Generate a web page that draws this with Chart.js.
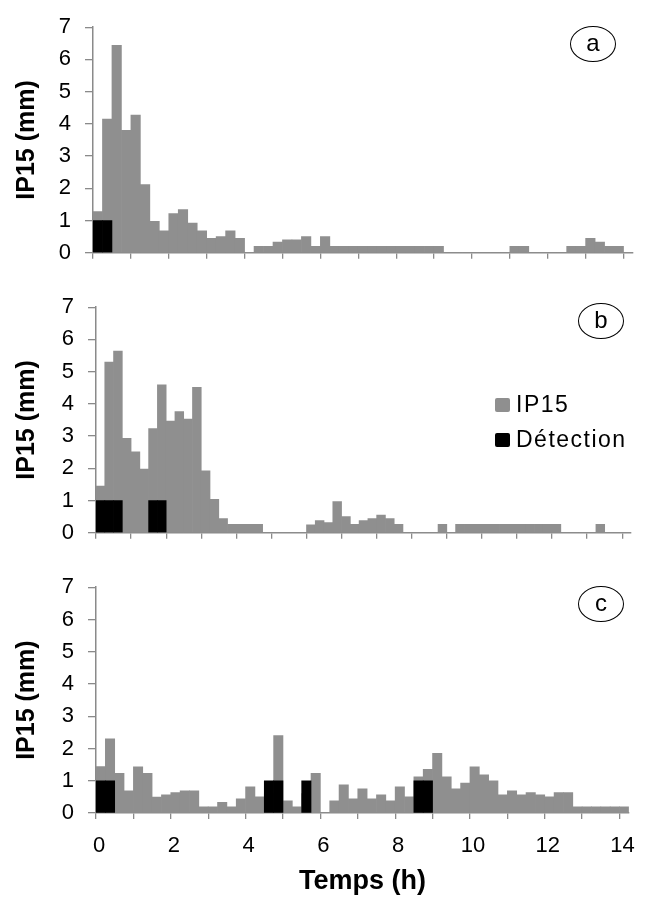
<!DOCTYPE html>
<html>
<head>
<meta charset="utf-8">
<script src="https://cdn.jsdelivr.net/npm/chart.js@4"></script>
<style>
  body { margin: 0; background: #fff; font-family: "Liberation Sans", Arial, sans-serif; }
  #wrap { position: relative; width: 646px; height: 902px; overflow: hidden; }
  canvas { position: absolute; left: 0; }
  .tag {
    position: absolute; width: 44px; height: 34px; border: 1.3px solid #000; border-radius: 50%;
    font-size: 24px; line-height: 32px; text-align: center; color: #000; background: #fff;
  }
  .legend { position: absolute; left: 495px; top: 387px; font-size: 23px; letter-spacing: 1.5px; color: #000; }
  .legend div { display: flex; align-items: center; height: 35px; }
  .legend span.sw { display: inline-block; width: 15px; height: 14px; border-radius: 2px; margin-right: 6px; }
</style>
</head>
<body>
<div id="wrap">
  <canvas id="chartA" width="646" height="280" style="top:0px"></canvas>
  <canvas id="chartB" width="646" height="280" style="top:280px"></canvas>
  <canvas id="chartC" width="646" height="342" style="top:560px"></canvas>
  <div class="tag" style="left:570px; top:26px">a</div>
  <div class="tag" style="left:578px; top:303px">b</div>
  <div class="tag" style="left:578px; top:586px">c</div>
  <div class="legend">
    <div><span class="sw" style="background:#8f8f8f"></span>IP15</div>
    <div><span class="sw" style="background:#000"></span>Détection</div>
  </div>
</div>
<script>
// 15-minute rainfall (IP15, mm), one value per 15-min bin starting at 0 h

const BIN_H = 0.25;

// panel a
const ipA = [1.28, 4.15, 6.44, 3.8, 4.27, 2.12, 0.98, 0.68, 1.22, 1.34, 0.92, 0.68, 0.45, 0.5, 0.68, 0.45,
  0, 0.2, 0.2, 0.33, 0.4, 0.4, 0.5, 0.2, 0.5,
  0.2, 0.2, 0.2, 0.2, 0.2, 0.2, 0.2, 0.2, 0.2, 0.2, 0.2, 0.2,
  0, 0, 0, 0, 0, 0, 0,
  0.2, 0.2, 0, 0, 0, 0,
  0.2, 0.2, 0.45, 0.33, 0.2, 0.2, 0];
const detA = [0, 0.25];            // bin start hours with a detection

// panel b
const ipB = [1.45, 5.3, 5.64, 2.93, 2.51, 1.98, 3.23, 4.59, 3.47, 3.76, 3.53, 4.51, 1.92, 1.04, 0.44,
  0.26, 0.26, 0.26, 0.26, 0, 0, 0, 0, 0,
  0.25, 0.38, 0.32, 0.97, 0.5, 0.26, 0.38, 0.44, 0.55, 0.44, 0.26,
  0, 0, 0, 0, 0.26, 0,
  0.26, 0.26, 0.26, 0.26, 0.26, 0.26, 0.26, 0.26, 0.26, 0.26, 0.26, 0.26,
  0, 0, 0, 0, 0.26, 0, 0, 0];
const detB = [0, 0.25, 0.5, 1.5, 1.75];

// panel c
const ipC = [1.44, 2.3, 1.23, 0.69, 1.43, 1.23, 0.49, 0.56, 0.63, 0.69, 0.69, 0.19, 0.19, 0.33, 0.19, 0.44,
  0.81, 0.5, 0.6, 2.4, 0.38, 0.19, 0.6, 1.23, 0, 0.38, 0.87, 0.44, 0.75, 0.44, 0.56, 0.38,
  0.81, 0.5, 1.12, 1.35, 1.85, 1.12, 0.75, 0.93, 1.43, 1.18, 1.0, 0.56, 0.69, 0.56, 0.63,
  0.56, 0.5, 0.63, 0.63, 0.19, 0.19, 0.19, 0.19, 0.19, 0.19];
const detC = [0, 0.25, 4.5, 4.75, 5.5, 8.5, 8.75];

const detLevel = 1;

// axes
const hourTicks14 = [0, 1, 2, 3, 4, 5, 6, 7, 8, 9, 10, 11, 12, 13, 14];
const hourTicks15 = [0, 1, 2, 3, 4, 5, 6, 7, 8, 9, 10, 11, 12, 13, 14, 15];
const xLabels = [0, 2, 4, 6, 8, 10, 12, 14];

const GREY = '#8f8f8f';
const AXIS = '#8a8a8a';
const FONT = '"Liberation Sans", Arial, sans-serif';

function makePanel(id, ipVals, detHours, xMax, tickHours, box, showLabels) {
  const ipPoints = ipVals.map((v, i) => ({ x: i * BIN_H + BIN_H / 2, y: v }));
  const detPoints = detHours.map(h => ({ x: h + BIN_H / 2, y: detLevel }));

  return new Chart(document.getElementById(id), {
    type: 'bar',
    data: {
      datasets: [
        { label: 'IP15', data: ipPoints, backgroundColor: GREY, order: 1 },
        { label: 'Détection', data: detPoints, backgroundColor: '#000', order: 0 }
      ]
    },
    options: {
      responsive: false,
      animation: false,
      datasets: { bar: { grouped: false, barPercentage: 1, categoryPercentage: 1, borderWidth: 0 } },
      layout: { padding: { left: 0, top: box.top, right: 646 - box.right, bottom: 0 } },
      plugins: { legend: { display: false }, tooltip: { enabled: false } },
      scales: {
        x: {
          type: 'linear', min: 0, max: xMax, offset: false,
          afterBuildTicks: s => { s.ticks = tickHours.map(v => ({ value: v })); },
          afterFit: s => { s.height = box.xHeight; },
          grid: { drawOnChartArea: false, drawTicks: true, tickLength: 6, color: AXIS, lineWidth: 1.3, offset: false },
          border: { color: AXIS, width: 1.5 },
          ticks: {
            display: showLabels, padding: 14, labelOffset: 3, color: '#000', maxRotation: 0, autoSkip: false,
            font: { family: FONT, size: 22 },
            callback: v => xLabels.includes(v) ? String(v) : ''
          },
          title: {
            display: showLabels, text: 'Temps (h)', color: '#000',
            font: { family: FONT, size: 27, weight: 'bold', lineHeight: 1 },
            padding: { top: 0, bottom: 7 }
          }
        },
        y: {
          min: 0, max: 7,
          ticks: { stepSize: 1, padding: 14, color: '#000', font: { family: FONT, size: 22 } },
          afterFit: s => { s.width = box.left; },
          grid: { drawOnChartArea: false, drawTicks: true, tickLength: 8, color: AXIS, lineWidth: 1.3 },
          border: { color: AXIS, width: 1.5 },
          title: {
            display: true, text: 'IP15 (mm)', color: '#000',
            font: { family: FONT, size: 25, weight: 'bold', lineHeight: 1 },
            padding: { top: 15, bottom: 0 }
          }
        }
      }
    }
  });
}

makePanel('chartA', ipA, detA, 14.25, hourTicks14, { left: 93, right: 633, top: 22, xHeight: 25 }, false);
makePanel('chartB', ipB, detB, 15.25, hourTicks15, { left: 96, right: 631, top: 21, xHeight: 23 }, false);
makePanel('chartC', ipC, detC, 14.25, hourTicks14, { left: 96, right: 633, top: 20, xHeight: 89 }, true);
</script>
</body>
</html>
